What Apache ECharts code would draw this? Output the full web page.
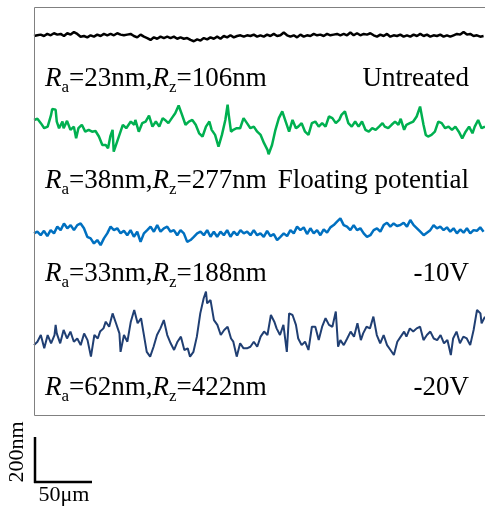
<!DOCTYPE html>
<html lang="en">
<head>
    <meta charset="UTF-8">
    <title>Surface profiles</title>
    <style>
        html, body { margin: 0; padding: 0; background: #fff; }
        #main { width: 485px; height: 507px; }
    </style>
    <script src="https://cdn.jsdelivr.net/npm/echarts@6/dist/echarts.min.js"></script>
</head>
<body>
<div id="main"></div>
<script type="text/javascript">
    // profile heights in nm (scale bar: 200nm / 50um)
    var sampleStep = 2.924; // um between samples of the evenly sampled profiles

    var untreatedH = [0,3,6,0,9,3,12,6,9,0, 12,6,17,9,-3,0,-6,3,-3,6, 0,9,3,9,3,12,6,3,6,9,
        0,-6,6,-3,-9,-17,-6,-12,-3,-9, -3,-9,-3,-12,-6,-12,-9,-17,-23,-15, -20,-9,-15,-6,-12,-3,-12,0,-6,3,
        -6,0,3,-3,3,0,6,-3,3,-3, 6,0,9,0,3,15,3,-3,3,-6, 6,-3,3,0,9,3,6,0,9,3,
        6,9,3,9,3,15,3,12,3,9, 6,12,3,-3,6,0,9,-3,3,0, 6,-3,3,-3,6,0,9,0,6,-3,
        3,0,6,-3,3,-3,3,9,6,17, 6,9,0,3,-3,0];

    var floatingX = [0,3,6,9,12,15,16,19,20,22, 25,26,29,32,35,37,39,42,45,48, 51,54,57,60,63,65,67,69,70,73,
        75,78,81,85,88,89,92,95,98,101, 104,107,110,113,115,118,121,124,127,130, 133,136,139,142,145,148,151,154,156,159,
        162,165,168,170,171,173,175,178,181,184, 187,190,193,196,199,202,205,206,209,212, 215,218,221,224,227,230,232,235,238,241,
        244,247,250,253,256,259,262,265,268,270, 273,276,279,282,285,288,291,294,297,300, 303,306,308,311,314,317,320,322,325,327,
        330,333,336,339,342,344,346,349,352,355, 358,361,364,367,370,373,376,379,382,385, 387,390,393,396];
    var floatingH = [36,41,22,0,7,58,84,80,29,0, 29,0,32,-7,7,-44,0,15,-15,-7, -15,-12,-36,-73,-73,-87,-36,-7,-102,-58,
        -29,15,0,29,15,36,-15,22,29,55, 7,29,7,44,36,22,44,65,99,58, 15,29,36,15,-22,-36,7,29,-7,-29,
        -80,-29,36,102,58,-15,-7,0,0,44, 22,0,7,-15,-29,-65,-94,-113,-73,-7, 44,73,29,-15,36,0,7,22,-15,-29,
        22,29,7,22,7,51,44,22,36,58, 73,22,7,29,7,29,-7,-15,0,-7, 7,22,7,0,15,29,15,41,-7,15,
        22,29,51,94,15,-29,-36,-29,-15,29, 22,0,7,-7,7,-15,-44,-15,7,-22, 7,36,0,7];

    var minus10H = [-7,0,-15,4,-19,7,-7,22,7,36, 15,29,7,29,36,15,-22,-29,-51,-36, -58,-29,-7,22,7,15,-7,4,-15,7,
        -22,0,-44,-7,7,22,0,29,0,15, 22,0,7,-15,7,-7,-44,-36,-22,-7, 0,-15,7,-22,0,-22,0,-15,7,-22,
        0,-15,7,-7,0,-15,7,-15,-7,-22, 4,-19,-10,-36,-22,-7,-19,7,-7,22, 7,19,-10,15,-7,7,-15,10,-4,19,
        29,44,58,29,22,7,29,7,15,-7, -22,-15,7,15,0,29,39,22,36,25, 29,39,22,51,29,15,0,-15,-4,7,
        29,15,22,7,19,0,15,-7,10,-4, 15,-7,7,4,19,0];

    var minus20X = [0,3,6,9,12,15,18,19,20,23, 26,29,32,35,38,41,44,47,50,53, 56,58,61,63,66,69,72,75,76,79,
        82,85,88,91,94,96,99,102,105,108, 111,114,117,120,123,126,129,132,135,137, 140,143,146,149,151,152,155,158,161,164,
        167,170,173,175,178,181,184,187,190,193, 196,199,202,205,208,211,213,216,219,222, 224,227,230,232,235,238,241,244,247,250,
        253,256,259,262,265,267,269,272,275,278, 281,284,287,289,292,295,298,301,304,307, 310,313,316,319,322,325,327,330,333,336,
        339,342,345,348,351,354,357,360,363,366, 368,371,374,377,380,383,386,389,392,393, 396];
    var minus20H = [-44,-29,0,-58,0,-36,0,44,7,-36, 22,-15,15,-29,-15,-44,7,-22,-94,0, -15,15,29,58,36,94,51,7,-73,0,
        -29,58,109,51,73,15,-73,-94,-51,0, 29,65,0,-36,-65,-29,-7,-65,-58,-94, -73,-7,94,160,189,138,152,65,44,0,
        22,36,-15,-29,-94,-36,-58,-58,-51,-29, -51,-7,15,0,87,58,29,0,44,-73, 94,87,44,-15,-44,-29,-65,36,36,-22,
        36,73,44,36,102,-51,-22,-44,-15,15, -7,51,-22,7,36,29,80,0,-36,0, -44,-65,-87,-29,-7,15,-7,29,15,29,
        36,-22,0,15,-15,-22,0,-36,-22,-87, -15,15,-36,-7,-15,-44,22,109,94,51, 80];

    var conditions = ['Untreated', 'Floating potential', '-10V', '-20V'];
    var raValues = [23, 38, 33, 62];
    var rzValues = [106, 277, 188, 422];

    // where each profile sits in the stack (nm above the frame bottom)
    var baselines = [1652, 1251, 801, 352];
    var colors = ['#000000', '#00b050', '#0070c0', '#203f73'];
    var widths = [2.5, 2.5, 2.5, 2];
    var labelY = [79, 181, 274, 388];

    function evenX(h) {
        return h.map(function (v, i) { return i * sampleStep; });
    }
    var profileX = [evenX(untreatedH), floatingX, evenX(minus10H), minus20X];
    var profileH = [untreatedH, floatingH, minus10H, minus20H];

    var series = [];
    for (var k = 0; k < 4; k++) {
        var pts = [];
        for (var i = 0; i < profileH[k].length; i++) {
            pts.push([profileX[k][i], baselines[k] + profileH[k][i]]);
        }
        series.push({
            type: 'line',
            data: pts,
            showSymbol: false,
            silent: true,
            animation: false,
            lineStyle: { color: colors[k], width: widths[k] }
        });
    }

    var serif = '"Liberation Serif", "Times New Roman", serif';
    var rich = {
        i: { fontFamily: serif, fontSize: 27, fontStyle: 'italic', fill: '#000' },
        s: { fontFamily: serif, fontSize: 17, fill: '#000', padding: [18, 0, 0, 0] },
        n: { fontFamily: serif, fontSize: 27, fill: '#000' }
    };

    var graphic = [];
    // frame, open on the right where the figure is cut off
    graphic.push({ type: 'rect', silent: true, z: 10,
        shape: { x: 34.5, y: 7.5, width: 480, height: 408 },
        style: { fill: 'none', stroke: '#808080', lineWidth: 1 } });
    for (var k = 0; k < 4; k++) {
        graphic.push({
            type: 'text', x: 45, y: labelY[k], silent: true,
            style: {
                text: '{i|R}{s|a}{n|=' + raValues[k] + 'nm,}{i|R}{s|z}{n|=' + rzValues[k] + 'nm}',
                rich: rich, textAlign: 'left', textVerticalAlign: 'middle'
            }
        });
        graphic.push({
            type: 'text', x: 469, y: labelY[k], silent: true,
            style: {
                text: conditions[k], font: '27px ' + serif, fill: '#000',
                textAlign: 'right', textVerticalAlign: 'middle'
            }
        });
    }
    // scale bar
    graphic.push({ type: 'line', silent: true, shape: { x1: 35, y1: 437, x2: 35, y2: 483 },
        style: { stroke: '#000', lineWidth: 2.5 } });
    graphic.push({ type: 'line', silent: true, shape: { x1: 34, y1: 482, x2: 92, y2: 482 },
        style: { stroke: '#000', lineWidth: 2.5 } });
    graphic.push({ type: 'text', x: 17, y: 452, rotation: Math.PI / 2, silent: true,
        style: { text: '200nm', font: '22px ' + serif, fill: '#000', textAlign: 'center', textVerticalAlign: 'middle' } });
    graphic.push({ type: 'text', x: 64, y: 495, silent: true,
        style: { text: '50μm', font: '22px ' + serif, fill: '#000', textAlign: 'center', textVerticalAlign: 'middle' } });

    var myChart = echarts.init(document.getElementById('main'));
    option = {
        backgroundColor: '#fff',
        animation: false,
        grid: { left: 34, top: 7, right: 0, height: 409, show: false },
        xAxis: { type: 'value', min: 0, max: 396, show: false },
        yAxis: { type: 'value', min: 0, max: 1778, show: false },
        series: series,
        graphic: graphic
    };
    myChart.setOption(option);
</script>
</body>
</html>
